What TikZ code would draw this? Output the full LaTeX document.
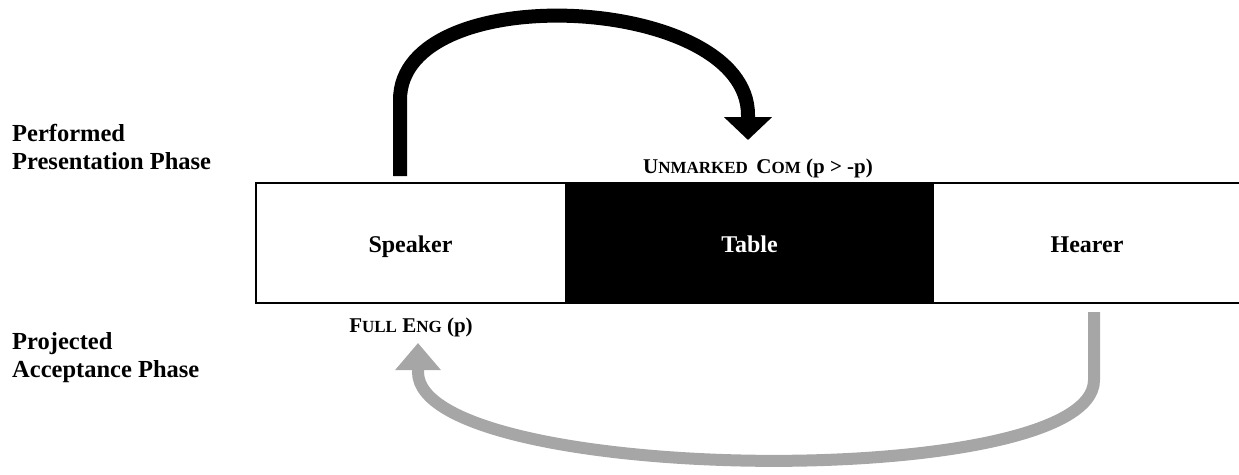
\documentclass[tikz,border=0pt]{standalone}
\usepackage{fontspec}
\setmainfont{LiberationSerif}[Extension=.ttf, UprightFont=*-Regular,
  BoldFont=*-Bold, ItalicFont=*-Italic, BoldItalicFont=*-BoldItalic]
\usetikzlibrary{arrows.meta}
\definecolor{arrowgray}{RGB}{166,166,166}
% fake small caps: capital at full size, rest in smaller capitals
\newcommand\fakesc[1]{{\fontsize{17}{17}\selectfont #1}}

\begin{document}
\begin{tikzpicture}[x=1pt,y=-1pt,
  cell/.style={minimum height=120pt, inner sep=0pt, outer sep=0pt,
    text height=22pt, text depth=4pt,
    font=\fontsize{24}{24}\selectfont\bfseries},
  frame/.style={line width=2pt},
  phase/.style={anchor=base west, inner sep=0pt,
    font=\fontsize{24.5}{24.5}\selectfont\bfseries},
  movelabel/.style={anchor=base, inner sep=0pt,
    font=\fontsize{21}{21}\selectfont\bfseries},
  blackarrow/.style={line width=14pt, -{Triangle[width=47pt,length=23pt]}},
  grayarrow/.style={draw=arrowgray, line width=12pt,
    -{Triangle[width=44pt,length=27pt]}, arrowgray}]
\useasboundingbox (0,0) rectangle (1239,474);
\clip (0,0) rectangle (1239,474);

% phase labels on the left
\node[phase] (perf1) at (12,141) {Performed};
\node[phase] (perf2) at (12,169) {Presentation Phase};
\node[phase] (proj1) at (12,349) {Projected};
\node[phase] (proj2) at (12,377) {Acceptance Phase};

% the three cells of the strip
\node[cell, minimum width=309pt] (speaker) at (410.5,243) {Speaker};
\node[cell, minimum width=369pt, fill=black, text=white] (table) at (749.5,243) {Table};
\node[cell, minimum width=306pt] (hearer) at (1087,243) {Hearer};
\draw[frame] ([xshift=40pt]hearer.north east) -- (speaker.north west)
  -- (speaker.south west) -- ([xshift=40pt]hearer.south east);

% move labels
\node[movelabel] (unmarked) at (758,173)
  {U\fakesc{NMARKED}\hspace{0.4em}C\fakesc{OM} (p > -p)};
\node[movelabel] (fulleng) at (411,332)
  {F\fakesc{ULL} E\fakesc{NG} (p)};

% arrow tips just above / below the labels
\coordinate (comtip) at (748,140);
\coordinate (engtip) at (418,343);

% presentation: speaker to the table
\draw[blackarrow] ([xshift=-10.5pt,yshift=7pt]speaker.north) -- (400,100)
  .. controls (400,-23) and (748,-6) .. (748,115) -- (comtip);

% acceptance: hearer back to the speaker
\draw[grayarrow] ([xshift=7pt,yshift=-9pt]hearer.south) -- (1094,380)
  .. controls (1094,493) and (418,485) .. (418,372) -- (engtip);
\end{tikzpicture}
\end{document}
